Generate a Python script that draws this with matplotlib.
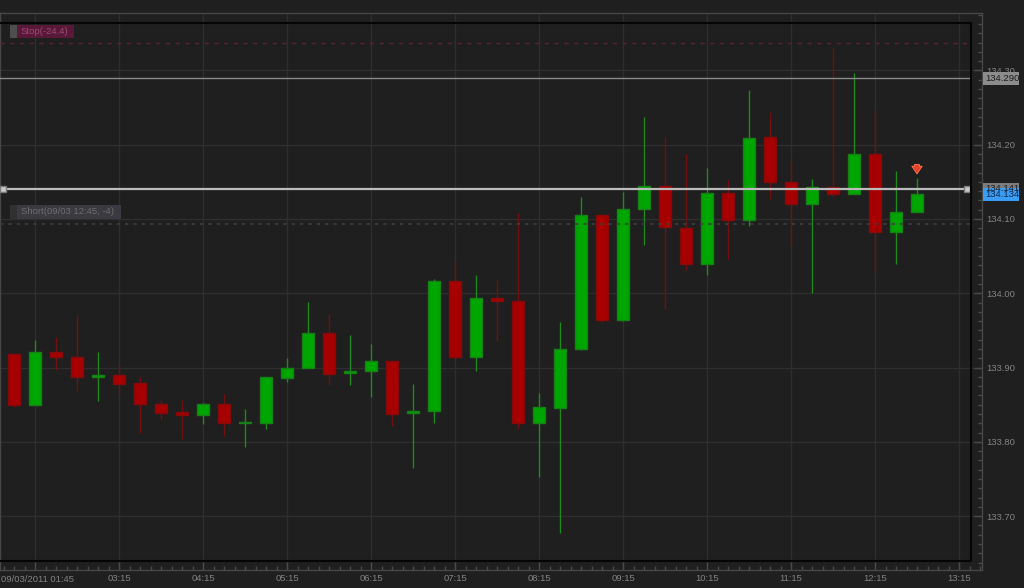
import matplotlib
matplotlib.use("Agg")
import matplotlib.pyplot as plt
from matplotlib.patches import Rectangle
from matplotlib.lines import Line2D
from matplotlib.ticker import FixedLocator, MultipleLocator, FuncFormatter

plt.rcParams["font.family"] = ["Liberation Sans", "DejaVu Sans"]

# ---------------- data ----------------
times = ["02:00", "02:15", "02:30", "02:45", "03:00", "03:15", "03:30", "03:45",
         "04:00", "04:15", "04:30", "04:45", "05:00", "05:15", "05:30", "05:45",
         "06:00", "06:15", "06:30", "06:45", "07:00", "07:15", "07:30", "07:45",
         "08:00", "08:15", "08:30", "08:45", "09:00", "09:15", "09:30", "09:45",
         "10:00", "10:15", "10:30", "10:45", "11:00", "11:15", "11:30", "11:45",
         "12:00", "12:15", "12:30", "12:45"]
opens = [133.918, 133.850, 133.921, 133.914, 133.888, 133.890, 133.879, 133.851,
         133.840, 133.836, 133.851, 133.825, 133.826, 133.886, 133.900, 133.946,
         133.893, 133.895, 133.909, 133.839, 133.841, 134.017, 133.914, 133.993,
         133.989, 133.825, 133.846, 133.925, 134.105, 133.964, 134.113, 134.144,
         134.088, 134.039, 134.135, 134.098, 134.210, 134.150, 134.120, 134.143,
         134.133, 134.188, 134.082, 134.110]
highs = [133.918, 133.937, 133.941, 133.969, 133.921, 133.904, 133.887, 133.857,
         133.856, 133.852, 133.865, 133.844, 133.888, 133.913, 133.988, 133.972,
         133.944, 133.932, 133.909, 133.878, 134.019, 134.045, 134.025, 134.018,
         134.108, 133.866, 133.962, 134.129, 134.105, 134.136, 134.237, 134.210,
         134.188, 134.169, 134.152, 134.274, 134.244, 134.177, 134.154, 134.330,
         134.297, 134.247, 134.165, 134.155]
lows = [133.847, 133.850, 133.897, 133.869, 133.855, 133.863, 133.812, 133.830,
        133.804, 133.824, 133.808, 133.793, 133.818, 133.881, 133.900, 133.876,
        133.877, 133.860, 133.822, 133.765, 133.825, 133.910, 133.896, 133.936,
        133.817, 133.753, 133.677, 133.924, 133.962, 133.963, 134.065, 133.979,
        134.032, 134.024, 134.046, 134.091, 134.127, 134.065, 134.000, 134.129,
        134.133, 134.029, 134.040, 134.110]
closes = [133.850, 133.921, 133.914, 133.888, 133.890, 133.878, 133.851, 133.839,
          133.836, 133.851, 133.826, 133.827, 133.887, 133.900, 133.946, 133.892,
          133.895, 133.909, 133.838, 133.841, 134.017, 133.914, 133.993, 133.989,
          133.825, 133.847, 133.925, 134.105, 133.964, 134.114, 134.144, 134.089,
          134.039, 134.135, 134.098, 134.209, 134.150, 134.120, 134.143, 134.133,
          134.188, 134.082, 134.110, 134.134]

y_ticks = [133.70, 133.80, 133.90, 134.00, 134.10, 134.20, 134.30]
x_tick_labels = ["", "03:15", "04:15", "05:15", "06:15", "07:15", "08:15",
                 "09:15", "10:15", "11:15", "12:15", "13:15"]
first_label = "09/03/2011 01:45"

level_290 = 134.290
level_141 = 134.141
last_price = 134.134
stop_level = 134.337
short_level = 134.093
stop_text = "Stop(-24.4)"
short_text = "Short(09/03 12:45, -4)"
arrow_time = "12:45"
arrow_top, arrow_bottom = 134.177, 134.157

# ---------------- helpers ----------------
def to_h(t):
    hh, mm = t.split(":")
    return int(hh) + int(mm) / 60.0

xs = [to_h(t) for t in times]
W, H = 1024, 588
BG = "#1f1f1f"
GRID = "#2e2e2e"
TXT = "#828282"
FS = 6.8

fig = plt.figure(figsize=(W / 100, H / 100), dpi=100, facecolor=BG)
ax = fig.add_axes([0, 18 / H, 982 / W, 557 / H])
ax.set_facecolor(BG)

# scales (pixel mapping derived from the reference)
x_left = 2.25 - 35 / 84
x_right = 2.25 + 947 / 84
ax.set_xlim(x_left, x_right)
ax.set_ylim(133.62759, 134.37725)
x_end = 2.25 + 936 / 84  # inner plot border

def fx(px):
    return px / W

def fy(py):
    return 1 - py / H

# grid / ticks
major_x = [2.25 + i for i in range(12)]
ax.xaxis.set_major_locator(FixedLocator(major_x))
ax.xaxis.set_minor_locator(MultipleLocator(0.125))
ax.yaxis.set_major_locator(FixedLocator(y_ticks))
ax.yaxis.set_minor_locator(MultipleLocator(0.0125))
ax.set_xticklabels(x_tick_labels)
ax.yaxis.set_major_formatter(FuncFormatter(lambda v, p: f"{v:.2f}"))
ax.yaxis.tick_right()
ax.grid(True, which="major", color=GRID, lw=1, zorder=0)
ax.tick_params(axis="both", which="both", direction="in", colors="#4a4a4a",
               labelcolor=TXT, labelsize=FS)
ax.tick_params(axis="both", which="major", length=6, width=1)
ax.tick_params(axis="both", which="minor", length=3, width=1)
ax.tick_params(axis="x", pad=3)
ax.tick_params(axis="y", pad=3)
for s in ["right", "bottom", "top", "left"]:
    ax.spines[s].set_color("#474747")
    ax.spines[s].set_linewidth(1)

fig.text(fx(1), fy(579), first_label, color=TXT, fontsize=FS,
         ha="left", va="center")

# candles
up_fill, up_edge, up_wick = "#00a600", "#158015", "#1e8a1e"
dn_fill, dn_edge, dn_wick = "#a60000", "#860a0a", "#701010"
bw = 0.15
for x, o, h, l, c in zip(xs, opens, highs, lows, closes):
    up = c >= o
    ax.vlines(x, l, h, color=up_wick if up else dn_wick, lw=1, zorder=2)
    body = max(abs(c - o), 0.0015)
    ax.bar(x, body, bottom=min(o, c), width=bw,
           color=up_fill if up else dn_fill,
           edgecolor=up_edge if up else dn_edge, lw=1, zorder=3)

# horizontal levels
ax.plot([x_left, x_end], [stop_level, stop_level], color="#5a2036",
        lw=1, ls=(0, (3, 4)), zorder=4)
ax.plot([x_left, x_end], [short_level, short_level], color="#3e3e3e",
        lw=1.2, ls=(0, (2, 3)), zorder=4)
ax.plot([x_left, x_end], [level_290, level_290], color="#8a8a8a", lw=1, zorder=4)
h3 = x_left + 3 / 84
h967 = x_left + 967 / 84
ax.plot([h3, h967], [level_141, level_141], color="#bcbcbc", lw=1.6, zorder=5)
ax.plot([h3, h967], [level_141, level_141], ls="none", marker="s", ms=5,
        mfc="#c8c8c8", mec="#7a7a7a", mew=1, zorder=6)

# sell arrow
a_h = to_h(arrow_time)
ax.annotate("", xy=(a_h, arrow_bottom), xytext=(a_h, arrow_top),
            arrowprops=dict(arrowstyle="simple,head_width=0.75,head_length=0.55,tail_width=0.35",
                            fc="#e8402a", ec="#ff7a50", lw=0.6), zorder=7)

# inner black frame
fig.add_artist(Line2D([fx(0), fx(971), fx(971), fx(0)],
                      [fy(23), fy(23), fy(561), fy(561)],
                      color="#050505", lw=1.5, transform=fig.transFigure))

# label boxes (order/stop tags)
def box(x0, y0, x1, y1, color):
    fig.add_artist(Rectangle((fx(x0), fy(y1)), (x1 - x0) / W, (y1 - y0) / H,
                             transform=fig.transFigure, fc=color, ec="none"))

box(10, 25, 74, 38, "#5a1838")
box(10, 25, 17, 38, "#4e4e4e")
fig.text(fx(21), fy(31.5), stop_text, color="#9a4a72", fontsize=FS,
         ha="left", va="center")

box(10, 205, 121, 219, "#3a3a40")
box(10, 205, 17, 219, "#303030")
fig.text(fx(21), fy(212), short_text, color="#6e6e6e", fontsize=FS,
         ha="left", va="center")

# right price tags
box(983, 72, 1019, 85, "#8c8c8c")
fig.text(fx(985), fy(78.5), f"{level_290:.3f}", color="#1c1c1c", fontsize=FS,
         ha="left", va="center")
box(983, 183, 1019, 195, "#7c7c7c")
fig.text(fx(985), fy(188.5), f"{level_141:.3f}", color="#1c1c1c", fontsize=FS,
         ha="left", va="center")
box(983, 188, 1019, 201, "#3a9cf2")
fig.text(fx(985), fy(194.5), f"{last_price:.3f}", color="#0c2a50", fontsize=FS,
         ha="left", va="center")

fig.savefig("out.png", dpi=100, facecolor=BG)
